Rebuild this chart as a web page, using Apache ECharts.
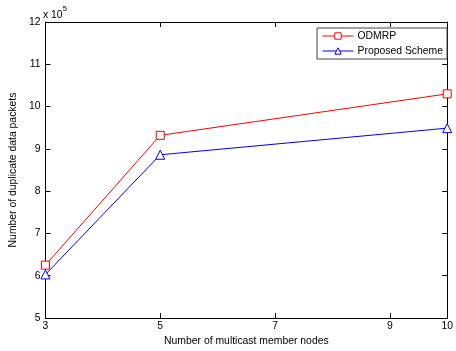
<!DOCTYPE html>
<html><head><meta charset="utf-8">
<script src="https://cdn.jsdelivr.net/npm/echarts@6/dist/echarts.min.js"></script>
<style>html,body{margin:0;padding:0;background:#fff}#c{width:456px;height:351px}</style>
</head><body><div id="c"></div>
<script>
const xValues = [3, 5, 10];
const odmrp = [6.25, 9.32, 10.3];
const proposed = [6.03, 8.86, 9.49];
const xTicks = [3, 5, 7, 9, 10];
const seriesNames = ['ODMRP', 'Proposed Scheme'];

const F = 'Liberation Sans, Arial, sans-serif';
const FS = 10.4;
const chart = echarts.init(document.getElementById('c'));
const axisLine = {show: true, lineStyle: {color: '#000', width: 1}};
chart.setOption({
  animation: false,
  backgroundColor: '#fff',
  textStyle: {fontFamily: F},
  grid: {left: 43, right: 3, top: 22, bottom: 33, containLabel: false},
  legend: {
    data: seriesNames, orient: 'vertical', right: 9, top: 28,
    backgroundColor: '#fff', borderColor: '#444', borderWidth: 1, padding: [3, 4, 3, 5],
    itemWidth: 31, itemHeight: 8, itemGap: 5,
    itemStyle: {borderWidth: 1},
    lineStyle: {width: 1},
    textStyle: {fontFamily: F, fontSize: FS, color: '#000', padding: [0, 0, 0, -1]}
  },
  xAxis: [{
    type: 'value', min: 3, max: 10, position: 'bottom',
    name: 'Number of multicast member nodes', nameLocation: 'middle', nameGap: 18,
    nameTextStyle: {fontFamily: F, fontSize: FS, color: '#000'},
    axisLine: axisLine, splitLine: {show: false},
    axisTick: {show: true, inside: true, length: 5, customValues: xTicks, lineStyle: {color: '#000'}},
    axisLabel: {customValues: xTicks, fontFamily: F, fontSize: FS, color: '#000', margin: 3}
  }, {
    type: 'value', min: 3, max: 10, position: 'top',
    axisLine: axisLine, splitLine: {show: false},
    axisTick: {show: true, inside: true, length: 5, customValues: xTicks, lineStyle: {color: '#000'}},
    axisLabel: {show: false}
  }],
  yAxis: [{
    type: 'value', min: 5, max: 12, interval: 1, position: 'left',
    name: 'Number of duplicate data packets', nameLocation: 'middle', nameGap: 23,
    nameTextStyle: {fontFamily: F, fontSize: FS, color: '#000'},
    axisLine: axisLine, splitLine: {show: false},
    axisTick: {show: true, inside: true, length: 5, lineStyle: {color: '#000'}},
    axisLabel: {fontFamily: F, fontSize: FS, color: '#000', margin: 5}
  }, {
    type: 'value', min: 5, max: 12, interval: 1, position: 'right',
    axisLine: axisLine, splitLine: {show: false},
    axisTick: {show: true, inside: true, length: 5, lineStyle: {color: '#000'}},
    axisLabel: {show: false}
  }],
  graphic: [{
    type: 'text', left: 43, top: 5,
    style: {
      text: '{a|x 10}{b|5}',
      rich: {
        a: {fontFamily: F, fontSize: FS, fill: '#000', padding: [6, 0, 0, 0]},
        b: {fontFamily: F, fontSize: 7.5, fill: '#000', padding: [0, 0, 6, 0]}
      }
    }
  }],
  series: [{
    name: seriesNames[0], type: 'line',
    data: xValues.map((x, i) => [x, odmrp[i]]),
    symbol: 'rect', symbolSize: 8, showAllSymbol: true,
    lineStyle: {color: '#ff0000', width: 1},
    itemStyle: {color: '#fff', borderColor: '#ff0000', borderWidth: 1},
    emphasis: {disabled: true}
  }, {
    name: seriesNames[1], type: 'line',
    data: xValues.map((x, i) => [x, proposed[i]]),
    symbol: 'triangle', symbolSize: 9,
    lineStyle: {color: '#0000ff', width: 1},
    itemStyle: {color: '#fff', borderColor: '#0000ff', borderWidth: 1},
    emphasis: {disabled: true}
  }]
});
</script></body></html>
